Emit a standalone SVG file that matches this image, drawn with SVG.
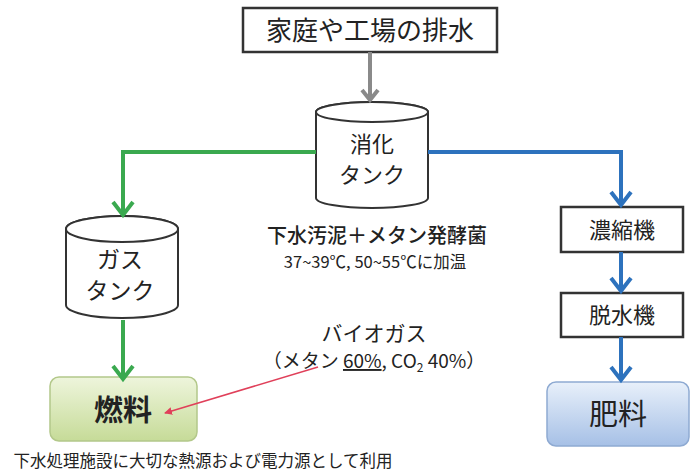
<svg xmlns="http://www.w3.org/2000/svg" width="693" height="475" viewBox="0 0 693 475">
<style>
text{font-family:"Noto Sans CJK JP","Noto Sans",sans-serif;fill:#222;text-anchor:middle}
.box{fill:#fff;stroke:#333;stroke-width:2.5}
.cyl{fill:#fff;stroke:#333;stroke-width:2}
.g{stroke:#3aa94f;stroke-width:4;fill:none}
.b{stroke:#2d72bd;stroke-width:4;fill:none}
.gr{stroke:#8a8a8a;stroke-width:4;fill:none}
</style>
<defs>
<linearGradient id="gg" x1="0" y1="0" x2="0" y2="1"><stop offset="0" stop-color="#eef5dc"/><stop offset="1" stop-color="#c6db98"/></linearGradient>
<linearGradient id="bg" x1="0" y1="0" x2="0" y2="1"><stop offset="0" stop-color="#e8f0fa"/><stop offset="1" stop-color="#a6c0e6"/></linearGradient>
<marker id="ra" markerWidth="8" markerHeight="8" refX="7" refY="4" orient="auto" markerUnits="userSpaceOnUse"><path d="M0,0 L8,4 L0,8 Z" fill="#e0405a"/></marker>
</defs>
<g id="src">
<rect class="box" x="243" y="8" width="254" height="44"/>
<text x="370" y="40" font-size="26">家庭や工場の排水</text>
</g>
<g id="digester">
<path class="cyl" d="M316,112 V198 A56,10 0 0 0 428,198 V112 A56,10 0 0 0 316,112 Z"/>
<ellipse class="cyl" cx="372" cy="112" rx="56" ry="10"/>
<text x="372" y="152" font-size="22">消化</text>
<text x="372" y="183" font-size="22">タンク</text>
</g>
<g id="gastank">
<path class="cyl" d="M66,229 V305 A56,13 0 0 0 178,305 V229 A56,13 0 0 0 66,229 Z"/>
<ellipse class="cyl" cx="122" cy="229" rx="56" ry="13"/>
<text x="120" y="268" font-size="23">ガス</text>
<text x="120" y="299" font-size="23">タンク</text>
</g>
<g id="note1">
<text x="377" y="243" font-size="20" font-weight="500">下水汚泥＋メタン発酵菌</text>
<text x="375" y="268" font-size="16.5">37~39℃, 50~55℃に加温</text>
</g>
<g id="biogas">
<text x="374" y="341" font-size="21">バイオガス</text>
<text x="374" y="368" font-size="19">（メタン <tspan text-decoration="underline">60%</tspan>, CO<tspan font-size="12" dy="4">2</tspan><tspan dy="-4"> 40%）</tspan></text>
</g>
<g id="fuel">
<rect x="50" y="377" width="147" height="64" rx="9" fill="url(#gg)" stroke="#b3c88a" stroke-width="1.5"/>
<text x="123" y="421" font-size="29" font-weight="bold">燃料</text>
</g>
<g id="fuelnote">
<text x="203" y="467" font-size="16.5">下水処理施設に大切な熱源および電力源として利用</text>
</g>
<g id="thickener">
<rect class="box" x="561" y="207" width="122" height="45"/>
<text x="622" y="238" font-size="22">濃縮機</text>
</g>
<g id="dewater">
<rect class="box" x="561" y="293" width="122" height="44"/>
<text x="622" y="323" font-size="22">脱水機</text>
</g>
<g id="fertilizer">
<rect x="547" y="382" width="142" height="64" rx="9" fill="url(#bg)" stroke="#8eaad2" stroke-width="1.5"/>
<text x="618" y="425" font-size="29">肥料</text>
</g>
<g id="connectors">
<path class="gr" d="M370,52 V100"/>
<path class="gr" d="M362,90 L370,100 L378,90"/>
<path class="g" d="M316,152 H123 V214"/>
<path class="g" d="M113,202 L123,215 L133,202"/>
<path class="g" d="M123,320 V378"/>
<path class="g" d="M113,366 L123,379 L133,366"/>
<path class="b" d="M428,152 H621 V204"/>
<path class="b" d="M611,192 L621,205 L631,192"/>
<path class="b" d="M621,252 V290"/>
<path class="b" d="M611,278 L621,291 L631,278"/>
<path class="b" d="M621,337 V379"/>
<path class="b" d="M611,367 L621,380 L631,367"/>
<path d="M318,367 L165,413" stroke="#e0405a" stroke-width="1.6" fill="none" marker-end="url(#ra)"/>
</g>
</svg>
